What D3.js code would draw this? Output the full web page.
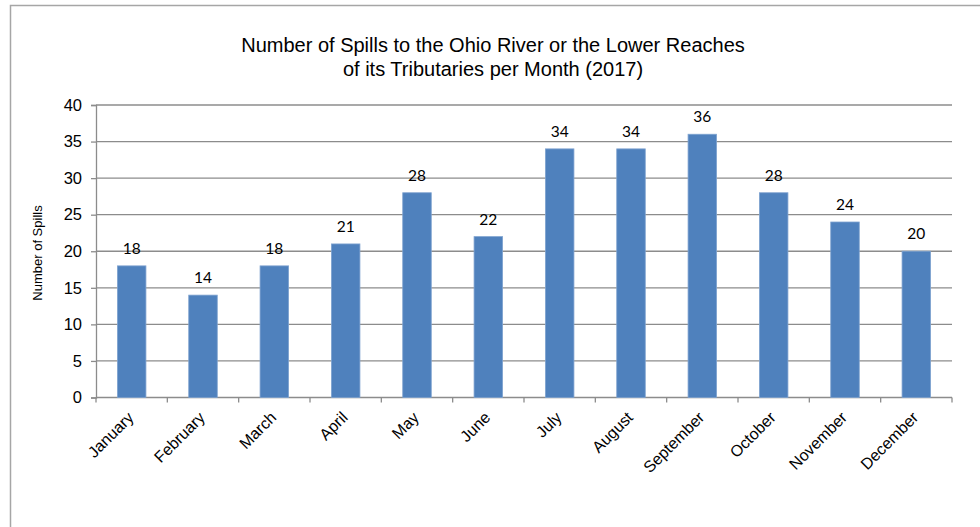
<!DOCTYPE html>
<html>
<head>
<meta charset="utf-8">
<script src="https://cdn.jsdelivr.net/npm/d3@7"></script>
<style>
  body { margin: 0; background: #fff; }
  svg { display: block; }
</style>
</head>
<body>
<div id="chart"></div>
<script>
// Chart data
var months = ["January", "February", "March", "April", "May", "June",
  "July", "August", "September", "October", "November", "December"];
var spills = [18, 14, 18, 21, 28, 22, 34, 34, 36, 28, 24, 20];
var yTicks = [0, 5, 10, 15, 20, 25, 30, 35, 40];
var titleLines = ["Number of Spills to the Ohio River or the Lower Reaches",
  "of its Tributaries per Month (2017)"];

// SVG dimensions
var svgWidth = 980;
var svgHeight = 527;

// Plot area
var margin = { top: 105, right: 28, bottom: 129.5, left: 96 };
var chartWidth = svgWidth - margin.left - margin.right;
var chartHeight = svgHeight - margin.top - margin.bottom;

var gridColor = "#8c8c8c";
var axisFont = "Liberation Sans, Arial, sans-serif";

var svg = d3.select("#chart")
  .append("svg")
  .attr("width", svgWidth)
  .attr("height", svgHeight);

// Outer chart border
svg.append("rect")
  .attr("x", 10.5)
  .attr("y", 5.5)
  .attr("width", svgWidth)
  .attr("height", svgHeight)
  .attr("fill", "none")
  .attr("stroke", "#a6a6a6")
  .attr("stroke-width", 1.5);

// Title
svg.append("text")
  .attr("text-anchor", "middle")
  .style("font-family", axisFont)
  .style("font-size", "20px")
  .attr("fill", "#000")
  .selectAll("tspan")
  .data(titleLines)
  .enter()
  .append("tspan")
  .attr("x", 493)
  .attr("y", (d, i) => 52 + i * 23.5)
  .text((d) => d);

var chartGroup = svg.append("g")
  .attr("transform", `translate(${margin.left}, ${margin.top})`);

var xScale = d3.scaleBand()
  .domain(months)
  .range([0, chartWidth])
  .paddingInner(0.6)
  .paddingOuter(0.3);

// category boundaries for the tick marks
var catWidth = chartWidth / months.length;

var yScale = d3.scaleLinear()
  .domain([0, 40])
  .range([chartHeight, 0]);

// Left axis
var leftAxis = d3.axisLeft(yScale)
  .tickValues(yTicks)
  .tickSize(5)
  .tickPadding(9);

var yAxis = chartGroup.append("g").call(leftAxis);
yAxis.select(".domain").attr("stroke", gridColor).attr("stroke-width", 1.3);
yAxis.selectAll(".tick line").attr("stroke", gridColor).attr("stroke-width", 1.3);
yAxis.selectAll(".tick text")
  .style("font-family", axisFont)
  .style("font-size", "16.5px")
  .attr("fill", "#000");

// Gridlines
chartGroup.append("g")
  .selectAll("line")
  .data(yTicks.filter((d) => d > 0))
  .enter()
  .append("line")
  .attr("x1", 0)
  .attr("x2", chartWidth)
  .attr("y1", (d) => yScale(d))
  .attr("y2", (d) => yScale(d))
  .attr("stroke", gridColor)
  .attr("stroke-width", 1.3);

// X axis line and category ticks
chartGroup.append("line")
  .attr("x1", 0)
  .attr("x2", chartWidth)
  .attr("y1", chartHeight)
  .attr("y2", chartHeight)
  .attr("stroke", gridColor)
  .attr("stroke-width", 1.3);

chartGroup.append("g")
  .selectAll("line")
  .data(d3.range(months.length + 1))
  .enter()
  .append("line")
  .attr("x1", (d) => d * catWidth)
  .attr("x2", (d) => d * catWidth)
  .attr("y1", chartHeight)
  .attr("y2", chartHeight + 5)
  .attr("stroke", gridColor)
  .attr("stroke-width", 1.3);

// Bars
chartGroup.selectAll("rect.bar")
  .data(spills)
  .enter()
  .append("rect")
  .attr("class", "bar")
  .attr("x", (d, i) => xScale(months[i]))
  .attr("y", (d) => yScale(d))
  .attr("width", xScale.bandwidth())
  .attr("height", (d) => chartHeight - yScale(d))
  .attr("fill", "#4f81bd")
  .attr("stroke", "#7fa3d0")
  .attr("stroke-width", 0.8);

// Data labels
chartGroup.selectAll("text.val")
  .data(spills)
  .enter()
  .append("text")
  .attr("class", "val")
  .attr("x", (d, i) => xScale(months[i]) + xScale.bandwidth() / 2)
  .attr("y", (d) => yScale(d) - 12)
  .attr("text-anchor", "middle")
  .style("font-family", "Lato, Carlito, sans-serif")
  .style("font-size", "15.5px")
  .attr("fill", "#000")
  .text((d) => d);

// X labels rotated
chartGroup.selectAll("text.cat")
  .data(months)
  .enter()
  .append("text")
  .attr("class", "cat")
  .attr("text-anchor", "end")
  .attr("transform", (d) => {
    var cx = xScale(d) + xScale.bandwidth() / 2 + 3;
    return `translate(${cx}, ${chartHeight + 21}) rotate(-45)`;
  })
  .style("font-family", axisFont)
  .style("font-size", "16px")
  .attr("fill", "#000")
  .text((d) => d);

// Y axis title
svg.append("text")
  .attr("transform", "translate(42, 253) rotate(-90)")
  .attr("text-anchor", "middle")
  .style("font-family", axisFont)
  .style("font-size", "13px")
  .attr("fill", "#000")
  .text("Number of Spills");
</script>
</body>
</html>
